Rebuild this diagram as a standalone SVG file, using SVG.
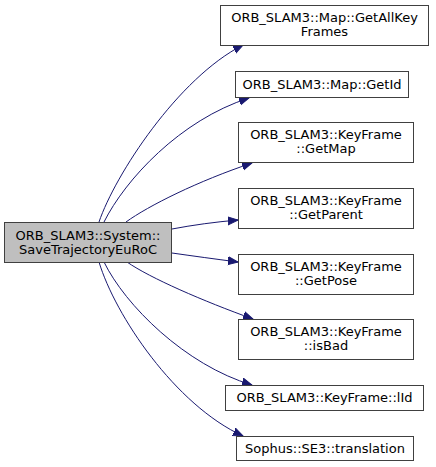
<svg xmlns="http://www.w3.org/2000/svg" width="436" height="467" viewBox="0 0 436 467">
<style>
.n rect{fill:#ffffff;stroke:#404040;stroke-width:1}
.n.cur rect{fill:#bfbfbf}
.n text{font-family:"DejaVu Sans",sans-serif;font-size:13px;fill:#000000;text-anchor:middle}
.e path{fill:none;stroke:#191970;stroke-width:1;marker-end:url(#ah)}
</style>
<defs>
<marker id="ah" markerUnits="userSpaceOnUse" markerWidth="12" markerHeight="10" viewBox="0 -5 12 10" refX="10" refY="0" orient="auto">
<path d="M0,-4 L10,0 L0,4 z" fill="#191970" stroke="#191970" stroke-width="1"/>
</marker>
</defs>
<rect width="436" height="467" fill="#ffffff"/>
<g id="edges" class="e">
<path d="M99,222 C115,175 178,78 243,45"/>
<path d="M104,222 C125,180 180,120 249,98"/>
<path d="M126,222 C148,206 198,181 252,163"/>
<path d="M172,229 C193,225 215,222 238,220"/>
<path d="M172,253 C193,256 215,259 238,262"/>
<path d="M127,262 C150,278 203,301 253,319"/>
<path d="M104,262 C125,305 185,365 252,385"/>
<path d="M99,262 C115,315 175,405 243,436"/>
</g>
<g id="main" class="n cur"><rect x="4.5" y="222.5" width="167" height="40"/><text x="88" y="239.5">ORB_SLAM3::System::</text><text x="88" y="253.5">SaveTrajectoryEuRoC</text></g>
<g id="n1" class="n"><rect x="220.5" y="5.5" width="208" height="40"/><text x="324.5" y="22">ORB_SLAM3::Map::GetAllKey</text><text x="324.5" y="36">Frames</text></g>
<g id="n2" class="n"><rect x="235.5" y="71.5" width="173" height="26"/><text x="322" y="88.5">ORB_SLAM3::Map::GetId</text></g>
<g id="n3" class="n"><rect x="238.5" y="122.5" width="175" height="40"/><text x="326" y="139">ORB_SLAM3::KeyFrame</text><text x="326" y="153">::GetMap</text></g>
<g id="n4" class="n"><rect x="238.5" y="188.5" width="175" height="40"/><text x="326" y="205">ORB_SLAM3::KeyFrame</text><text x="326" y="219">::GetParent</text></g>
<g id="n5" class="n"><rect x="238.5" y="254.5" width="175" height="40"/><text x="326" y="271">ORB_SLAM3::KeyFrame</text><text x="326" y="285">::GetPose</text></g>
<g id="n6" class="n"><rect x="238.5" y="319.5" width="175" height="40"/><text x="326" y="336">ORB_SLAM3::KeyFrame</text><text x="326" y="350">::isBad</text></g>
<g id="n7" class="n"><rect x="225.5" y="385.5" width="198" height="25"/><text x="324.5" y="402">ORB_SLAM3::KeyFrame::lId</text></g>
<g id="n8" class="n"><rect x="236.5" y="436.5" width="177" height="24"/><text x="325" y="453">Sophus::SE3::translation</text></g>
</svg>
